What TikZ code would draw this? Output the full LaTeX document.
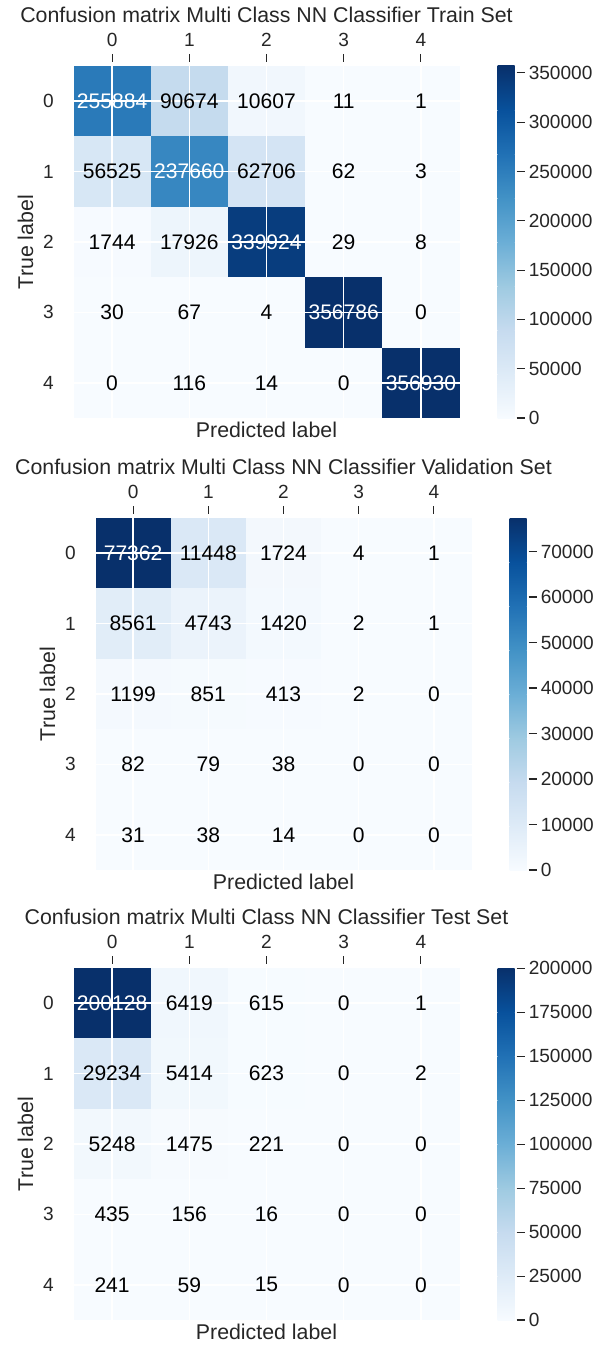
\documentclass[tikz,border=0pt]{standalone}
\usepackage{fontspec}
\setmainfont{Liberation Sans}
\usetikzlibrary{positioning}

% matplotlib "Blues"
\definecolor{blues0}{HTML}{F7FBFF}
\definecolor{blues1}{HTML}{DEEBF7}
\definecolor{blues2}{HTML}{C6DBEF}
\definecolor{blues3}{HTML}{9ECAE1}
\definecolor{blues4}{HTML}{6BAED6}
\definecolor{blues5}{HTML}{4292C6}
\definecolor{blues6}{HTML}{2171B5}
\definecolor{blues7}{HTML}{08519C}
\definecolor{blues8}{HTML}{08306B}
\definecolor{labgray}{HTML}{262626}

% counts, row by row
\newcommand\cmtr{255884,90674,10607,11,1,56525,237660,62706,62,3,1744,17926,339924,29,8,30,67,4,356786,0,0,116,14,0,356930}
\newcommand\cmva{77362,11448,1724,4,1,8561,4743,1420,2,1,1199,851,413,2,0,82,79,38,0,0,31,38,14,0,0}
\newcommand\cmte{200128,6419,615,0,1,29234,5414,623,0,2,5248,1475,221,0,0,435,156,16,0,0,241,59,15,0,0}

% fill and text colour of a count (0..vmax)
\newcommand\bluesof[2]{%
  \edef\cmt{\fpeval{min(8*(#1)/(#2),7.9999)}}%
  \edef\cmi{\fpeval{trunc(\cmt)}}%
  \edef\cmj{\fpeval{\cmi+1}}%
  \edef\cmf{\fpeval{round(100*(\cmt-\cmi),2)}}%
  \colorlet{cellfill}{blues\cmj!\cmf!blues\cmi}%
  \ifnum\fpeval{(#1)>(#2)/2}=1 \colorlet{celltext}{white}\else\colorlet{celltext}{black}\fi}

\tikzset{
  title/.style={text=labgray,inner sep=0,font=\fontsize{16}{19}\selectfont},
  axlab/.style={text=labgray,inner sep=0,font=\fontsize{16}{19}\selectfont},
  ticklab/.style={text=labgray,inner sep=0,font=\fontsize{14.3}{17}\selectfont},
  count/.style={text=celltext,inner sep=0,font=\fontsize{15.8}{19}\selectfont},
  gridline/.style={white,line width=1.1pt},
  tickmark/.style={labgray,line width=0.8pt}
}

\begin{document}
\begin{tikzpicture}[x=0.75pt,y=-0.75pt]
\useasboundingbox (0,0) rectangle (606,1345);
\foreach \pn/\oy/\ax/\cw/\vmax/\tstep/\tn/\setname in
  {tr/0/73.5/77.2/356930/50000/7/Train,
   va/452/95.5/75.2/77362/10000/7/Validation,
   te/902/73.5/77.2/200128/25000/8/Test}{
  \pgfmathsetmacro\ay{66+\oy}
  \pgfmathsetmacro\by{\ay+352}
  \pgfmathsetmacro\rx{\ax+5*\cw}
  \expandafter\let\expandafter\vlist\csname cm\pn\endcsname
  % heat map
  \foreach \val [count=\k from 0] in \vlist {
    \pgfmathtruncatemacro\ri{div(\k,5)}
    \pgfmathtruncatemacro\ci{mod(\k,5)}
    \bluesof{\val}{\vmax}
    \fill[cellfill] (\ax+\ci*\cw,\ay+\ri*70.4) rectangle +(\cw,70.4);
  }
  \foreach \i in {0,...,4}{
    \draw[gridline] (\ax+\i*\cw+0.5*\cw,\ay) -- (\ax+\i*\cw+0.5*\cw,\by);
    \draw[gridline] (\ax,\ay+\i*70.4+35.2) -- (\rx,\ay+\i*70.4+35.2);
  }
  \foreach \val [count=\k from 0] in \vlist {
    \pgfmathtruncatemacro\ri{div(\k,5)}
    \pgfmathtruncatemacro\ci{mod(\k,5)}
    \bluesof{\val}{\vmax}
    \node[count] (\pn-\ri-\ci) at (\ax+\ci*\cw+0.5*\cw,\ay+\ri*70.4+35.2) {\val};
  }
  % axes
  \foreach \i in {0,...,4}{
    \node[ticklab] (\pn-col\i) at (\ax+\i*\cw+0.5*\cw,\ay-26) {\i};
    \draw[tickmark] (\ax+\i*\cw+0.5*\cw,\ay-12) -- ++(0,8);
    \node[ticklab] (\pn-row\i) at (\ax-25,\ay+\i*70.4+35.2) {\i};
  }
  \node[title] (\pn-title) at (\ax+2.5*\cw,\ay-51) {Confusion matrix Multi Class NN Classifier \setname\ Set};
  \node[axlab,rotate=90] (\pn-ylab) at (\ax-48,\ay+176) {True label};
  \node[axlab] (\pn-xlab) at (\ax+2.5*\cw,\by+12) {Predicted label};
  % colour bar
  \foreach \i [evaluate=\i as \j using int(\i+1)] in {0,...,7}
    \shade[bottom color=blues\i,top color=blues\j] (\rx+38,\by-\i*44+0.3) rectangle (\rx+55,\by-\j*44);
  \foreach \tk in {0,...,\tn}{
    \edef\ty{\fpeval{\by-\tk*\tstep/\vmax*352}}
    \draw[tickmark] (\rx+57,\ty) -- ++(8,0);
    \node[ticklab,anchor=west] (\pn-cb\tk) at (\rx+69,\ty) {\fpeval{\tk*\tstep}};
  }
}
\end{tikzpicture}
\end{document}
